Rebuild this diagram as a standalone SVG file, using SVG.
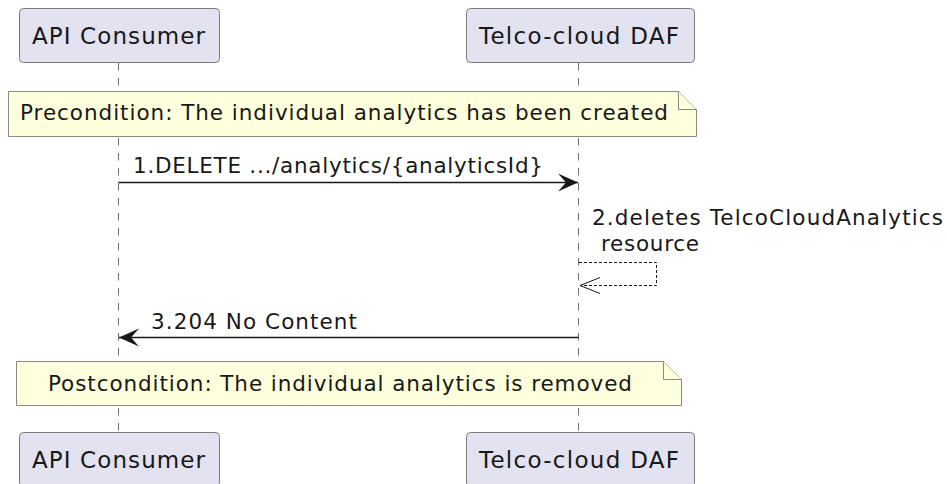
<svg xmlns="http://www.w3.org/2000/svg" width="947" height="484" viewBox="0 0 947 484">
<style>
  text { font-family: "DejaVu Sans", "Liberation Sans", sans-serif; fill: #181818; }
  .pt { font-size: 23px; }
  .mt { font-size: 21.5px; }
  .pbox { fill: #E2E2F0; stroke: #7a7a7a; stroke-width: 1; }
  .note { fill: #FEFFDD; stroke: #8a8a80; stroke-width: 1; }
  .life { stroke: #707070; stroke-width: 1; stroke-dasharray: 7.5,7.5; fill: none; }
  .msg { stroke: #181818; stroke-width: 1.5; fill: none; }
  .ret { stroke: #181818; stroke-width: 1; stroke-dasharray: 3,2; fill: none; }
</style>
<defs>
  <marker id="solid" markerWidth="22" markerHeight="20" refX="20" refY="9.5" orient="auto" markerUnits="userSpaceOnUse">
    <polygon points="0,0.5 20,9.5 0,18.5 8,9.5" fill="#181818"/>
  </marker>
  <marker id="open" markerWidth="22" markerHeight="20" refX="20" refY="9" orient="auto" markerUnits="userSpaceOnUse">
    <polyline points="0,1 20,9 0,17" fill="none" stroke="#181818" stroke-width="1"/>
  </marker>
</defs>

<g id="lifelines">
  <line class="life" x1="118.5" y1="63" x2="118.5" y2="432"/>
  <line class="life" x1="578.5" y1="63" x2="578.5" y2="432"/>
</g>

<g id="api-consumer-top">
  <rect class="pbox" x="19.5" y="8.5" width="200" height="54" rx="4"/>
  <text class="pt" x="32" y="44" textLength="173" lengthAdjust="spacing">API Consumer</text>
</g>
<g id="telco-daf-top">
  <rect class="pbox" x="466.5" y="8.5" width="228" height="54" rx="4"/>
  <text class="pt" x="479" y="44" textLength="200" lengthAdjust="spacing">Telco-cloud DAF</text>
</g>

<g id="note-precondition">
  <path class="note" d="M8.5,91.5 L678.5,91.5 L696.5,109.5 L696.5,136.5 L8.5,136.5 Z"/>
  <path class="note" d="M678.5,91.5 L678.5,109.5 L696.5,109.5" fill="none"/>
  <text class="mt" x="20" y="120" textLength="648" lengthAdjust="spacing">Precondition: The individual analytics has been created</text>
</g>

<g id="connectors">
  <line class="msg" x1="118.5" y1="182.5" x2="578" y2="182.5" marker-end="url(#solid)"/>
  <polyline class="ret" points="579,262.5 656.5,262.5 656.5,285.5 580,285.5" marker-end="url(#open)"/>
  <line class="msg" x1="578.5" y1="337.5" x2="119" y2="337.5" marker-end="url(#solid)"/>
</g>

<g id="labels">
  <text class="mt" x="133" y="173" textLength="410" lengthAdjust="spacing">1.DELETE .../analytics/{analyticsId}</text>
  <text class="mt" x="592" y="225" textLength="351" lengthAdjust="spacing">2.deletes TelcoCloudAnalytics</text>
  <text class="mt" x="601" y="251" textLength="98" lengthAdjust="spacing">resource</text>
  <text class="mt" x="151" y="329" textLength="206" lengthAdjust="spacing">3.204 No Content</text>
</g>

<g id="note-postcondition">
  <path class="note" d="M16.5,361.5 L663.5,361.5 L681.5,379.5 L681.5,405.5 L16.5,405.5 Z"/>
  <path class="note" d="M663.5,361.5 L663.5,379.5 L681.5,379.5" fill="none"/>
  <text class="mt" x="48" y="391" textLength="584" lengthAdjust="spacing">Postcondition: The individual analytics is removed</text>
</g>

<g id="api-consumer-bottom">
  <rect class="pbox" x="19.5" y="432.5" width="200" height="54" rx="4"/>
  <text class="pt" x="32" y="468" textLength="173" lengthAdjust="spacing">API Consumer</text>
</g>
<g id="telco-daf-bottom">
  <rect class="pbox" x="466.5" y="432.5" width="228" height="54" rx="4"/>
  <text class="pt" x="479" y="468" textLength="200" lengthAdjust="spacing">Telco-cloud DAF</text>
</g>
</svg>
